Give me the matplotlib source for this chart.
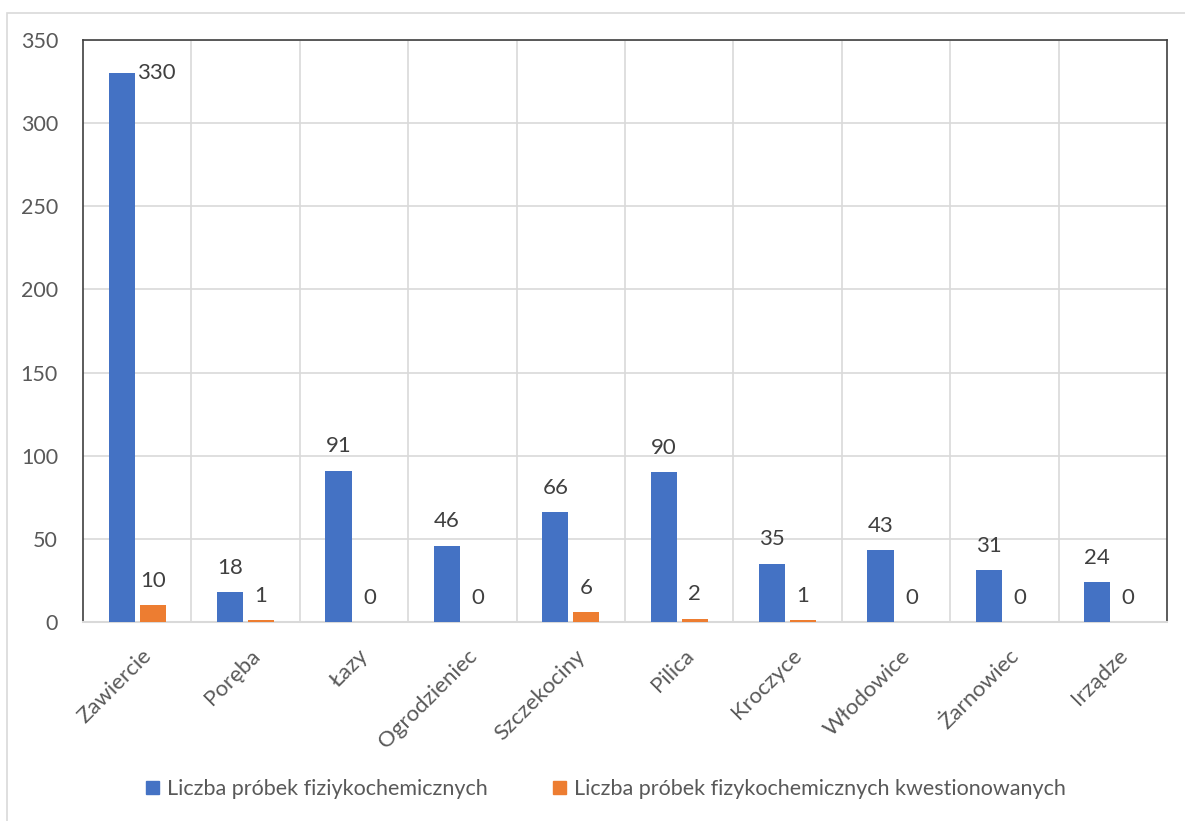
import numpy as np
import matplotlib
matplotlib.use("Agg")
import matplotlib.pyplot as plt

# dane
gminy = ["Zawiercie", "Poręba", "Łazy", "Ogrodzieniec", "Szczekociny",
         "Pilica", "Kroczyce", "Włodowice", "Żarnowiec", "Irządze"]
probki = [330, 18, 91, 46, 66, 90, 35, 43, 31, 24]
kwestionowane = [10, 1, 0, 0, 6, 2, 1, 0, 0, 0]
seria1 = "Liczba próbek fiziykochemicznych"
seria2 = "Liczba próbek fizykochemicznych kwestionowanych"

BLUE = "#4472C4"
ORANGE = "#ED7D31"
GRID = "#D9D9D9"
TXT = "#595959"

plt.rcParams['font.family'] = ['Lato', 'DejaVu Sans']

W, H = 1185, 821
fig = plt.figure(figsize=(W / 100, H / 100), dpi=100)

# ramka wykresu
fig.patches.append(plt.Rectangle((7 / W, -0.02), 1.05, 1 - 13 / H + 0.02,
                                 transform=fig.transFigure, fill=False,
                                 edgecolor=GRID, lw=1.2))

ax = fig.add_axes([83 / W, 1 - 622 / H, 1084 / W, 582 / H])

x = np.arange(len(gminy))
off = 0.143
bw = 0.24
ax.bar(x - off, probki, bw, color=BLUE, zorder=3)
ax.bar(x + off, kwestionowane, bw, color=ORANGE, zorder=3)

ax.set_xlim(-0.5, len(gminy) - 0.5)
ax.set_ylim(0, 350)
ax.set_yticks(np.arange(0, 351, 50))
ax.set_xticks(x + 0.04)
ax.set_xticklabels(gminy, rotation=45, ha="right", rotation_mode="anchor",
                   fontsize=16, color=TXT)
ax.tick_params(axis="x", length=0, pad=17)
ax.tick_params(axis="y", length=0, pad=18, labelsize=15.5, labelcolor=TXT)

ax.grid(axis="y", color=GRID, lw=1.2, zorder=0)
for b in np.arange(0.5, len(gminy) - 1, 1.0):
    ax.axvline(b, color=GRID, lw=1.2, zorder=0)

for s in ["top", "right", "left"]:
    ax.spines[s].set_color("#404040")
    ax.spines[s].set_linewidth(1.2)
ax.spines["bottom"].set_color(GRID)
ax.spines["bottom"].set_linewidth(1.5)

# etykiety danych
for xs, vals in [(x - off, probki), (x + off, kwestionowane)]:
    for xi, v in zip(xs, vals):
        if v > 320:
            ax.annotate(str(v), (xi, v), xytext=(11, 0), textcoords="offset points",
                        ha="left", va="center", fontsize=16, color="#404040")
        else:
            ax.annotate(str(v), (xi, v), xytext=(0, 17.5), textcoords="offset points",
                        ha="center", va="center", fontsize=16, color="#404040")

# legenda
fig.legend(handles=[plt.Rectangle((0, 0), 1, 1, color=BLUE),
                    plt.Rectangle((0, 0), 1, 1, color=ORANGE)],
           labels=[seria1, seria2], loc="center", bbox_to_anchor=(606 / W, 1 - 789 / H),
           ncol=2, frameon=False, fontsize=15.5, labelcolor=TXT,
           handlelength=0.6, handleheight=0.6, handletextpad=0.4, columnspacing=3.0)

fig.savefig("out.png", dpi=100)
